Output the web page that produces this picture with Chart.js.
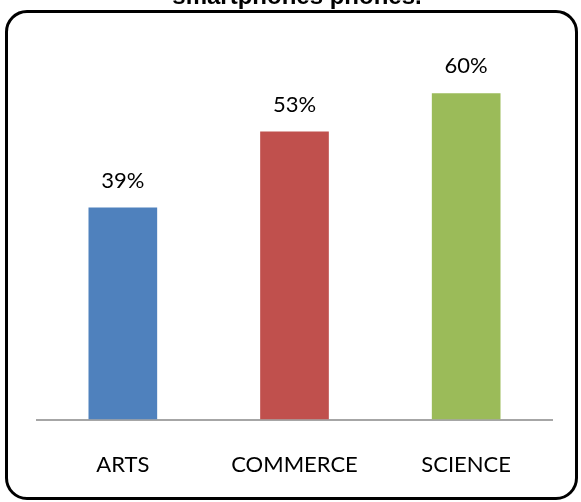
<!DOCTYPE html>
<html>
<head>
<meta charset="utf-8">
<script src="https://cdn.jsdelivr.net/npm/chart.js@4.4.1/dist/chart.umd.min.js"></script>
<style>
  html, body { margin: 0; padding: 0; background: #fff; overflow: hidden; }
  #wrap { position: relative; width: 581px; height: 502px; }
  #frame {
    position: absolute; left: 5px; top: 10px; width: 567px; height: 484px;
    border: 3px solid #000; border-radius: 22px; box-sizing: content-box;
  }
  canvas { position: absolute; left: 0; top: 0; }
</style>
</head>
<body>
<div id="wrap">
  <div id="frame"></div>
  <canvas id="c" width="581" height="502"></canvas>
</div>
<script>
const categories = ['ARTS', 'COMMERCE', 'SCIENCE'];
const percentages = [39, 53, 60];
const barColors = ['#4f81bd', '#c0504d', '#9bbb59'];
const titleLine = 'smartphones phones.';

const labelFont = '"Lato", "Open Sans", sans-serif';

// Title line sitting at the very top edge
const titlePlugin = {
  id: 'topTitle',
  afterDraw(chart) {
    const ctx = chart.ctx;
    ctx.save();
    ctx.font = 'bold 24px "Liberation Sans", Arial, sans-serif';
    ctx.fillStyle = '#000';
    ctx.textAlign = 'center';
    ctx.textBaseline = 'alphabetic';
    ctx.fillText(titleLine, 297, 4);
    ctx.restore();
  }
};

// Percentage labels above each bar
const valueLabels = {
  id: 'valueLabels',
  afterDatasetsDraw(chart) {
    const ctx = chart.ctx;
    const meta = chart.getDatasetMeta(0);
    ctx.save();
    ctx.font = '22px ' + labelFont;
    ctx.fillStyle = '#000';
    ctx.textAlign = 'center';
    ctx.textBaseline = 'middle';
    meta.data.forEach((bar, i) => {
      ctx.fillText(percentages[i] + '%', bar.x, bar.y - 27);
    });
    ctx.restore();
  }
};

new Chart(document.getElementById('c'), {
  type: 'bar',
  data: {
    labels: categories,
    datasets: [{
      data: percentages,
      backgroundColor: barColors,
      borderWidth: 0,
      categoryPercentage: 1,
      barPercentage: 0.4
    }]
  },
  options: {
    responsive: false,
    animation: false,
    devicePixelRatio: 1,
    layout: { padding: { left: 37, right: 29, top: 39, bottom: 0 } },
    plugins: {
      legend: { display: false },
      title: { display: false },
      tooltip: { enabled: false }
    },
    scales: {
      y: {
        display: false,
        min: 0,
        max: 70
      },
      x: {
        grid: { display: false },
        border: { display: true, color: '#a6a6a6', width: 2 },
        ticks: {
          padding: 24,
          color: '#000',
          font: { family: labelFont, size: 22 }
        }
      }
    }
  },
  plugins: [titlePlugin, valueLabels]
});
</script>
</body>
</html>
